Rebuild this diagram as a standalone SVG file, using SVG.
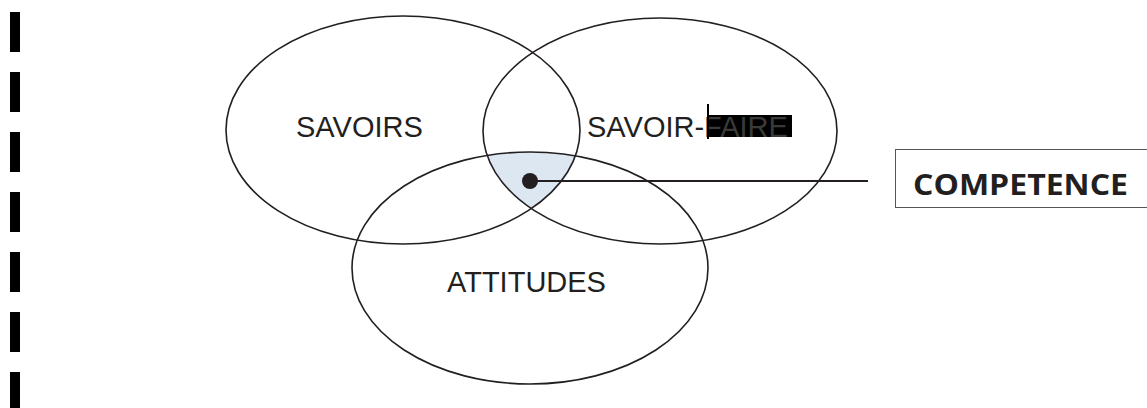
<svg xmlns="http://www.w3.org/2000/svg" width="1147" height="408" viewBox="0 0 1147 408">
<style>
.ell{fill:none;stroke:#231f20;stroke-width:1.6}
.lbl{font-family:"Liberation Sans",Arial,sans-serif;font-size:29px;fill:#231f20}
.dash{fill:#000}
</style>
<defs>
<clipPath id="c3"><ellipse cx="530" cy="268" rx="178" ry="116"/></clipPath>
<clipPath id="c2" clip-path="url(#c3)"><ellipse cx="660" cy="131" rx="177" ry="113"/></clipPath>
</defs>
<rect width="1147" height="408" fill="#fff"/>
<g id="dashes">
<rect class="dash" x="10" y="12" width="10" height="40"/>
<rect class="dash" x="10" y="72" width="10" height="40"/>
<rect class="dash" x="10" y="132" width="10" height="40"/>
<rect class="dash" x="10" y="192" width="10" height="40"/>
<rect class="dash" x="10" y="252" width="10" height="40"/>
<rect class="dash" x="10" y="312" width="10" height="40"/>
<rect class="dash" x="10" y="372" width="10" height="40"/>
</g>
<g id="competence-area">
<ellipse cx="403" cy="130" rx="177" ry="114" fill="#dce7f1" clip-path="url(#c2)"/>
</g>
<g id="savoirs">
<ellipse class="ell" cx="403" cy="130" rx="177" ry="114"/>
<text class="lbl" x="296" y="137">SAVOIRS</text>
</g>
<g id="savoir-faire">
<ellipse class="ell" cx="660" cy="131" rx="177" ry="113"/>
<rect x="709" y="115" width="83" height="22" fill="#000"/>
<text class="lbl" x="587" y="137">SAVOIR-<tspan fill="#3a3a3a">FAIRE</tspan></text>
<line x1="708" y1="104" x2="708" y2="139" stroke="#000" stroke-width="2"/>
</g>
<g id="attitudes">
<ellipse class="ell" cx="530" cy="268" rx="178" ry="116"/>
<text class="lbl" x="447" y="292">ATTITUDES</text>
</g>
<g id="connectors">
<circle cx="530" cy="181" r="8" fill="#231f20"/>
<line x1="530" y1="181" x2="868" y2="181" stroke="#231f20" stroke-width="2"/>
</g>
<g id="competence">
<rect x="895.5" y="149.5" width="260" height="58" fill="#fff" stroke="#555" stroke-width="1"/>
<text x="913" y="195" font-family="'Open Sans',sans-serif" font-weight="bold" font-size="28" fill="#231f20" textLength="215" lengthAdjust="spacingAndGlyphs">COMPETENCE</text>
</g>
</svg>
